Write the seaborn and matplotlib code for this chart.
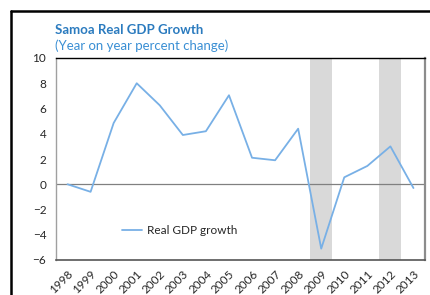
import matplotlib
matplotlib.use("Agg")
import matplotlib.pyplot as plt
import pandas as pd
import seaborn as sns
from matplotlib.lines import Line2D

years = [str(y) for y in range(1998, 2014)]
gdp_growth = [0.0, -0.6, 4.85, 8.0, 6.25, 3.9, 4.2, 7.05, 2.1, 1.9, 4.4, -5.1, 0.55, 1.45, 3.0, -0.3]
shaded_years = ["2009", "2012"]

sns.set_style("white")
plt.rcParams['font.family'] = ['Lato', 'DejaVu Sans']

df = pd.DataFrame({'year': years, 'growth': gdp_growth})

fig = plt.figure(figsize=(4.3, 2.95), dpi=100)
ax = fig.add_axes([56 / 430, 1 - 260 / 295, 369 / 430, 202 / 295])

for yr in shaded_years:
    i = years.index(yr)
    ax.axvspan(i - 0.48, i + 0.48, color='#d9d9d9', lw=0, zorder=0)

ax.axhline(0, color='#808080', lw=0.9, zorder=1)

sns.lineplot(data=df, x='year', y='growth', color='#78b0e6', lw=1.3,
             label='Real GDP growth', ax=ax, zorder=3)

ax.set_xlim(-0.5, len(years) - 0.5)
ax.set_ylim(-6, 10)
ax.set_yticks(range(-6, 11, 2))
ax.set_xlabel('')
ax.set_ylabel('')

ax.tick_params(axis='y', length=4, width=0.8, color='#a0a0a0', labelsize=8.5, pad=3)
ax.tick_params(axis='x', length=0, labelsize=8.5, pad=6)
for lbl in ax.get_xticklabels():
    lbl.set_rotation(45)
    lbl.set_ha('right')
    lbl.set_rotation_mode('anchor')

ax.spines['top'].set_color('black')
ax.spines['top'].set_linewidth(1.0)
ax.spines['left'].set_color('#a0a0a0')
ax.spines['left'].set_linewidth(1.0)
ax.spines['right'].set_color('#8c8c8c')
ax.spines['right'].set_linewidth(1.6)
ax.spines['bottom'].set_color('#555555')
ax.spines['bottom'].set_linewidth(1.2)

ax.legend(loc='center left', bbox_to_anchor=(0.15, 0.145), frameon=False,
          fontsize=8.5, handlelength=1.7, handletextpad=0.4)

fig.text(55 / 430, 1 - 34 / 295, 'Samoa Real GDP Growth', fontsize=9.5,
         fontweight='bold', color='#2b7bbf', va='baseline', ha='left')
fig.text(55 / 430, 1 - 50 / 295, '(Year on year percent change)', fontsize=9.5,
         color='#3a8fd4', va='baseline', ha='left')

# outer frame of the panel
fig.add_artist(Line2D([11 / 430, 11 / 430], [0, 1 - 11 / 295], color='black', lw=1.8,
                      transform=fig.transFigure))
fig.add_artist(Line2D([11 / 430, 1], [1 - 11 / 295, 1 - 11 / 295], color='black', lw=1.8,
                      transform=fig.transFigure))

fig.savefig('out.png', dpi=100)
